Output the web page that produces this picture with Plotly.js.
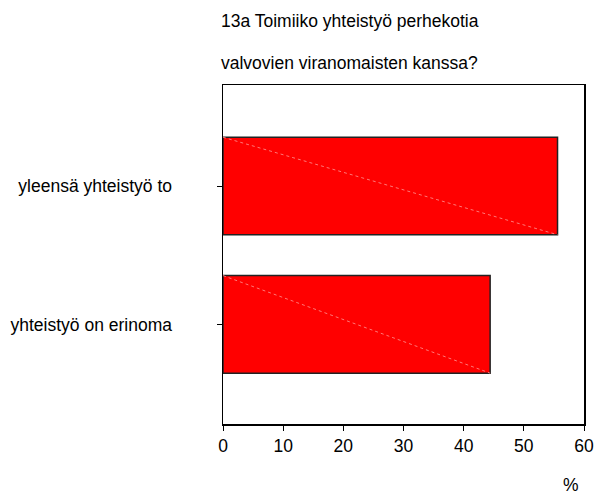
<!DOCTYPE html>
<html>
<head>
<meta charset="utf-8">
<script src="https://cdn.plot.ly/plotly-3.0.1.min.js"></script>
<style>html,body{margin:0;padding:0;background:#fff;}#chart{width:594px;height:497px;}</style>
</head>
<body>
<div id="chart"></div>
<script>
// Data (bottom to top)
const categories = ["yhteistyö on erinoma", "yleensä yhteistyö to"];
const values = [44.4, 55.6];
const xTickVals = [0, 10, 20, 30, 40, 50, 60];
const titleLines = ["13a Toimiiko yhteistyö perhekotia", "valvovien viranomaisten kanssa?"];
const unitLabel = "%";

const positions = categories.map((c, i) => i);
const barWidth = 0.705;
const font = {family: "Liberation Sans, Arial, sans-serif", size: 17.5, color: "#000"};

const traces = [{
  type: "bar",
  orientation: "h",
  x: values,
  y: positions,
  width: barWidth,
  marker: {color: "#ff0000", line: {color: "#222", width: 1.5}},
  hoverinfo: "x+y",
  showlegend: false
}];
// faint diagonal across each bar, derived from the data
values.forEach((v, i) => {
  traces.push({
    type: "scatter",
    mode: "lines",
    x: [0, v],
    y: [positions[i] + barWidth / 2, positions[i] - barWidth / 2],
    line: {color: "rgba(255,120,120,1)", width: 1, dash: "dot"},
    hoverinfo: "skip",
    showlegend: false
  });
});

const layout = {
  width: 594, height: 497,
  margin: {l: 223, r: 10, t: 85, b: 73},
  paper_bgcolor: "#fff", plot_bgcolor: "#fff",
  font: font,
  showlegend: false,
  xaxis: {
    range: [0, 60], tickvals: xTickVals, ticks: "outside", ticklen: 5, tickwidth: 1,
    tickcolor: "#000", showline: true, linecolor: "#000", linewidth: 1.5, mirror: true,
    showgrid: false, zeroline: false, tickfont: font, fixedrange: true
  },
  yaxis: {
    range: [-0.72, 1.73], tickvals: positions, ticktext: categories,
    ticks: "outside", ticklen: 5, tickwidth: 1, tickcolor: "#000",
    showline: true, linecolor: "#000", linewidth: 1.5, mirror: true,
    showgrid: false, zeroline: false, tickfont: font, ticklabelstandoff: 41, fixedrange: true
  },
  annotations: [
    {text: titleLines[0], xref: "paper", yref: "paper", x: 0, y: 1, xanchor: "left", yanchor: "middle",
     xshift: -4, yshift: 64, showarrow: false, font: font},
    {text: titleLines[1], xref: "paper", yref: "paper", x: 0, y: 1, xanchor: "left", yanchor: "middle",
     xshift: -4, yshift: 22, showarrow: false, font: font},
    {text: unitLabel, xref: "paper", yref: "paper", x: (571 - 223) / 361, y: 0, xanchor: "center", yanchor: "middle",
     yshift: -61, showarrow: false, font: font}
  ]
};

Plotly.newPlot("chart", traces, layout, {displayModeBar: false, staticPlot: true});
</script>
</body>
</html>
